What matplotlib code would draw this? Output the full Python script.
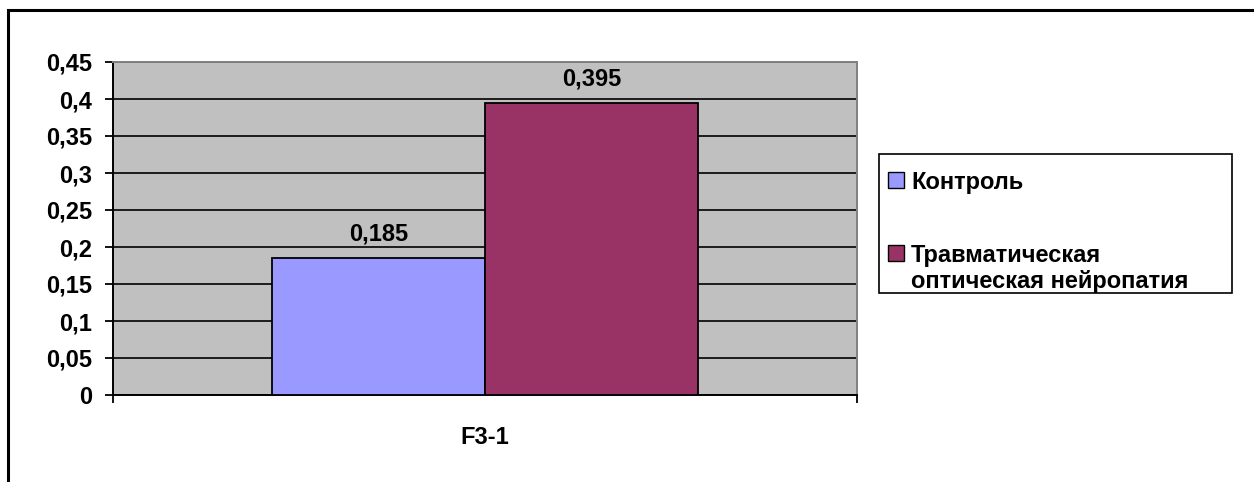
import matplotlib
matplotlib.use("Agg")
import matplotlib.pyplot as plt
from matplotlib.patches import Rectangle

plt.rcParams['font.family'] = ['Liberation Sans', 'DejaVu Sans']
plt.rcParams['font.weight'] = 'bold'

# Data
categories = ["F3-1"]
series_names = ["Контроль", "Травматическая\nоптическая нейропатия"]
series_values = [[0.185], [0.395]]
series_labels = [["0,185"], ["0,395"]]
series_colors = ["#9999FF", "#993366"]
y_ticks = [0, 0.05, 0.1, 0.15, 0.2, 0.25, 0.3, 0.35, 0.4, 0.45]
y_tick_labels = ["0", "0,05", "0,1", "0,15", "0,2", "0,25", "0,3", "0,35", "0,4", "0,45"]

FS = 17
W, H = 1254, 482
fig = plt.figure(figsize=(W / 100, H / 100), dpi=100)
fig.patch.set_facecolor("white")

def fx(px):
    return px / W

def fy(py):
    return 1 - py / H

ax = fig.add_axes([fx(113), fy(395), fx(857) - fx(113), fy(62) - fy(395)])
ax.set_facecolor("#C0C0C0")

n = len(series_values)
bar_w = 0.2863
offsets = [(i - (n - 1) / 2) * bar_w for i in range(n)]
for i in range(n):
    xs = [c + offsets[i] for c in range(len(categories))]
    bars = ax.bar(xs, series_values[i], width=bar_w, color=series_colors[i],
                  edgecolor="black", linewidth=1.3, zorder=3)
    for b, lab in zip(bars, series_labels[i]):
        ax.annotate(lab, (b.get_x() + b.get_width() / 2, b.get_height()),
                    xytext=(0, 12.5), textcoords="offset points",
                    ha="center", va="baseline", fontsize=FS, color="black")

ax.set_xlim(-0.5, len(categories) - 0.5)
ax.set_ylim(0, 0.45)

ax.set_yticks(y_ticks)
ax.set_yticklabels(y_tick_labels, fontsize=FS)
ax.yaxis.grid(True, color="black", linewidth=1.2, zorder=1)
ax.set_axisbelow(True)
ax.tick_params(axis="y", direction="out", length=6, width=1.3, pad=9, colors="black")

ax.set_xticks([c - 0.5 for c in range(len(categories) + 1)])
ax.set_xticklabels([])
ax.set_xticks(range(len(categories)), minor=True)
ax.set_xticklabels(categories, minor=True, fontsize=FS)
ax.tick_params(axis="x", which="major", direction="out", length=6, width=1.3)
ax.tick_params(axis="x", which="minor", length=0, pad=22)

for side in ("left", "bottom"):
    ax.spines[side].set_color("black")
    ax.spines[side].set_linewidth(1.4)
for side in ("top", "right"):
    ax.spines[side].set_color("#808080")
    ax.spines[side].set_linewidth(1.4)

# Legend box
fig.patches.append(Rectangle((fx(879), fy(293)), fx(1232) - fx(879), fy(154) - fy(293),
                             transform=fig.transFigure, facecolor="white",
                             edgecolor="black", linewidth=1.2))
legend_caps = [180, 253]
for name, color, cy in zip(series_names, series_colors, legend_caps):
    fig.patches.append(Rectangle((fx(888), fy(cy + 8)), fx(904) - fx(888), fy(cy - 8) - fy(cy + 8),
                                 transform=fig.transFigure, facecolor=color,
                                 edgecolor="black", linewidth=1.0))
    fig.text(fx(911), fy(cy - 9), name, fontsize=FS, ha="left", va="top",
             linespacing=1.17, color="black")

# Outer chart frame
fig.patches.append(Rectangle((fx(7.5), fy(500)), fx(1300), fy(9.5) - fy(500),
                             transform=fig.transFigure, facecolor="none",
                             edgecolor="black", linewidth=2.2, clip_on=False))

fig.savefig("out.png", dpi=100)
